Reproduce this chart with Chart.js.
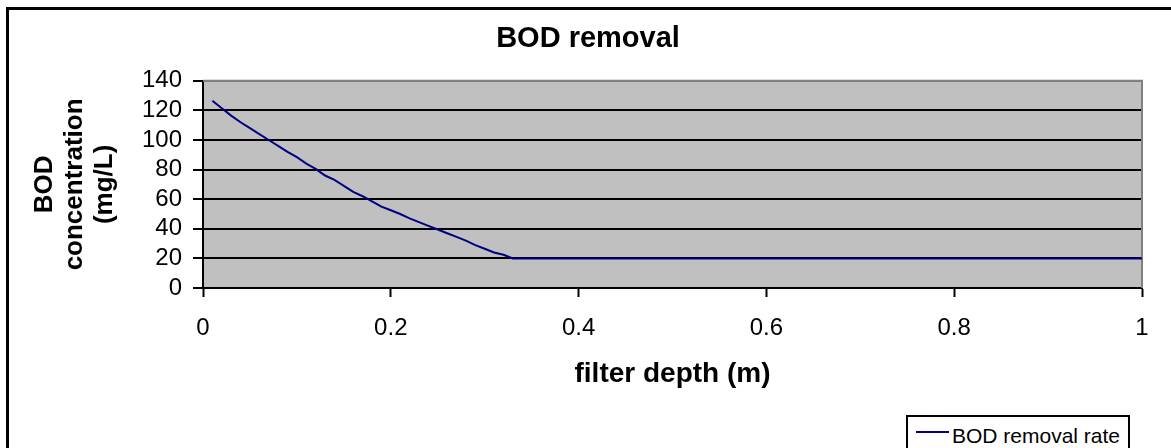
<!DOCTYPE html>
<html lang="en">

<head>
  <meta charset="UTF-8" />
  <title>BOD removal</title>
  <script src="https://cdn.jsdelivr.net/npm/chart.js"></script>
  <style>
    body {
      margin: 0;
      width: 1171px;
      height: 448px;
      overflow: hidden;
      background: #ffffff;
      font-family: 'Liberation Sans', Arial, sans-serif;
      position: relative;
    }

    .frame {
      position: absolute;
      left: 6px;
      top: 7px;
      width: 1200px;
      height: 500px;
      border: 3px solid #000;
    }

    #bodChart {
      position: absolute;
      left: 0;
      top: 0;
    }

    .legend {
      position: absolute;
      left: 906px;
      top: 415px;
      width: 220px;
      height: 50px;
      border: 2px solid #000;
      background: #fff;
    }

    .legend .swatch {
      position: absolute;
      left: 8px;
      top: 14px;
      width: 33px;
      height: 2px;
    }

    .legend .label {
      position: absolute;
      left: 44px;
      top: 8px;
      font-size: 21px;
      line-height: 21px;
      white-space: nowrap;
      color: #000;
    }
  </style>
</head>

<body>
  <div class="frame"></div>
  <canvas id="bodChart" width="1171" height="448"></canvas>
  <div class="legend" id="legend"></div>

  <script>
    // filter depth (m) and BOD concentration (mg/L)
    const depth = [0.01, 0.02, 0.03, 0.04, 0.05, 0.06, 0.07, 0.08, 0.09, 0.10,
      0.11, 0.12, 0.13, 0.14, 0.15, 0.16, 0.17, 0.18, 0.19, 0.20,
      0.21, 0.22, 0.23, 0.24, 0.25, 0.26, 0.27, 0.28, 0.29, 0.30,
      0.31, 0.32, 0.33, 0.4, 0.5, 0.6, 0.7, 0.8, 0.9, 1.0];
    const bod = [126.5, 121.5, 116.5, 112, 108, 104, 100, 96, 92, 88.4,
      84, 80.5, 76, 73, 69, 65, 62, 58.5, 55, 52.5,
      50, 47, 44.5, 42, 39.5, 37, 34.5, 32, 29, 26.5,
      24, 22.5, 20, 20, 20, 20, 20, 20, 20, 20];

    const seriesName = 'BOD removal rate';
    const chartTitle = 'BOD removal';
    const xTitle = 'filter depth (m)';
    const yTitle = ['BOD', 'concentration', '(mg/L)'];
    const yTicks = { min: 0, max: 140, step: 20 };
    const xTicks = { min: 0, max: 1, step: 0.2 };

    const FONT = "'Liberation Sans', Arial, sans-serif";
    Chart.defaults.color = '#000';
    Chart.defaults.font.family = FONT;

    // grey plot area with grey top/right edge
    const plotArea = {
      id: 'plotArea',
      beforeDraw(chart) {
        const { ctx, chartArea: a } = chart;
        ctx.save();
        ctx.fillStyle = '#c0c0c0';
        ctx.fillRect(a.left, a.top, a.right - a.left, a.bottom - a.top);
        ctx.restore();
      },
      beforeDatasetsDraw(chart) {
        const { ctx, chartArea: a } = chart;
        ctx.save();
        ctx.strokeStyle = '#808080';
        ctx.lineWidth = 2;
        ctx.beginPath();
        ctx.moveTo(a.left, a.top);
        ctx.lineTo(a.right, a.top);
        ctx.lineTo(a.right, a.bottom);
        ctx.stroke();
        ctx.restore();
      }
    };

    const chart = new Chart(document.getElementById('bodChart').getContext('2d'), {
      type: 'line',
      data: {
        datasets: [{
          label: seriesName,
          data: depth.map((d, i) => ({ x: d, y: bod[i] })),
          borderColor: '#000080',
          backgroundColor: '#000080',
          borderWidth: 2,
          pointRadius: 0,
          tension: 0
        }]
      },
      options: {
        responsive: false,
        animation: false,
        layout: { padding: { left: 34, right: 29, top: 0, bottom: 48 } },
        plugins: {
          legend: { display: false },
          tooltip: { enabled: false },
          title: {
            display: true,
            text: chartTitle,
            font: { size: 29, weight: 'bold' },
            padding: { top: 22, bottom: 24 }
          }
        },
        scales: {
          x: {
            type: 'linear',
            min: xTicks.min,
            max: xTicks.max,
            afterFit: s => { s.height = 112; },
            ticks: {
              stepSize: xTicks.step,
              autoSkip: false,
              padding: 17,
              font: { size: 24 },
              callback: v => String(Math.round(v * 10) / 10)
            },
            grid: {
              drawOnChartArea: false,
              drawTicks: true,
              tickLength: 9,
              tickColor: '#000',
              tickWidth: 2
            },
            border: { color: '#000', width: 2 },
            title: {
              display: true,
              text: xTitle,
              font: { size: 28, weight: 'bold' },
              padding: { top: 0, bottom: 9 }
            }
          },
          y: {
            min: yTicks.min,
            max: yTicks.max,
            afterFit: s => { s.width = 169; },
            ticks: {
              stepSize: yTicks.step,
              autoSkip: false,
              padding: 11,
              font: { size: 24 }
            },
            grid: {
              color: c => (c.tick && c.tick.value === yTicks.max) ? '#808080' : '#000',
              lineWidth: 2,
              tickLength: 10,
              tickColor: '#000',
              tickWidth: 2
            },
            border: { color: '#000', width: 2 },
            title: {
              display: true,
              text: yTitle,
              font: { size: 26, weight: 'bold', lineHeight: 1.15 },
              padding: { top: -4, bottom: 0 }
            }
          }
        }
      },
      plugins: [plotArea]
    });

    // legend box built from the chart's dataset
    const legend = document.getElementById('legend');
    chart.data.datasets.forEach(ds => {
      const sw = document.createElement('span');
      sw.className = 'swatch';
      sw.style.background = ds.borderColor;
      const lb = document.createElement('span');
      lb.className = 'label';
      lb.textContent = ds.label;
      legend.appendChild(sw);
      legend.appendChild(lb);
    });
  </script>
</body>

</html>
